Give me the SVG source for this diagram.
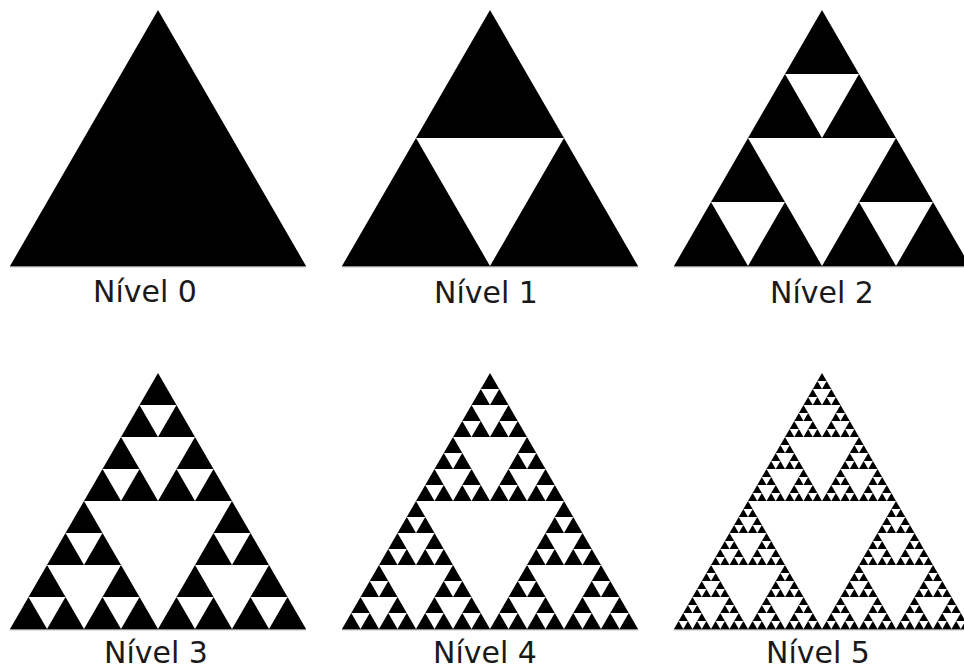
<svg xmlns="http://www.w3.org/2000/svg" xmlns:xlink="http://www.w3.org/1999/xlink" width="964" height="671" viewBox="0 0 964 671">
<style>
.lbl{font-family:"DejaVu Sans","Liberation Sans",sans-serif;font-size:30px;fill:#1a1a1a;text-anchor:middle}
.base{stroke:#8c8c8c;stroke-width:1.2}
</style>
<defs>
<polygon id="L0" points="148,0 0,256 296,256" fill="#000"/>
<g id="L1"><use href="#L0" transform="translate(74,0) scale(0.5)"/><use href="#L0" transform="translate(0,128) scale(0.5)"/><use href="#L0" transform="translate(148,128) scale(0.5)"/></g>
<g id="L2"><use href="#L1" transform="translate(74,0) scale(0.5)"/><use href="#L1" transform="translate(0,128) scale(0.5)"/><use href="#L1" transform="translate(148,128) scale(0.5)"/></g>
<g id="L3"><use href="#L2" transform="translate(74,0) scale(0.5)"/><use href="#L2" transform="translate(0,128) scale(0.5)"/><use href="#L2" transform="translate(148,128) scale(0.5)"/></g>
<g id="L4"><use href="#L3" transform="translate(74,0) scale(0.5)"/><use href="#L3" transform="translate(0,128) scale(0.5)"/><use href="#L3" transform="translate(148,128) scale(0.5)"/></g>
<g id="L5"><use href="#L4" transform="translate(74,0) scale(0.5)"/><use href="#L4" transform="translate(0,128) scale(0.5)"/><use href="#L4" transform="translate(148,128) scale(0.5)"/></g>
</defs>
<rect width="964" height="671" fill="#fff"/>
<g id="nivel0">
<use href="#L0" x="10" y="10"/>
<line class="base" x1="10" y1="266.6" x2="306" y2="266.6"/>
<text class="lbl" x="145" y="302">Nível 0</text>
</g>
<g id="nivel1">
<use href="#L1" x="342" y="10"/>
<line class="base" x1="342" y1="266.6" x2="638" y2="266.6"/>
<text class="lbl" x="486" y="303">Nível 1</text>
</g>
<g id="nivel2">
<use href="#L2" x="674" y="10"/>
<line class="base" x1="674" y1="266.6" x2="970" y2="266.6"/>
<text class="lbl" x="822" y="303">Nível 2</text>
</g>
<g id="nivel3">
<use href="#L3" x="10" y="373"/>
<line class="base" x1="10" y1="629.6" x2="306" y2="629.6"/>
<text class="lbl" x="156" y="663">Nível 3</text>
</g>
<g id="nivel4">
<use href="#L4" x="342" y="373"/>
<line class="base" x1="342" y1="629.6" x2="638" y2="629.6"/>
<text class="lbl" x="485" y="663">Nível 4</text>
</g>
<g id="nivel5">
<use href="#L5" x="674" y="373"/>
<line class="base" x1="674" y1="629.6" x2="970" y2="629.6"/>
<text class="lbl" x="818" y="663">Nível 5</text>
</g>
</svg>
